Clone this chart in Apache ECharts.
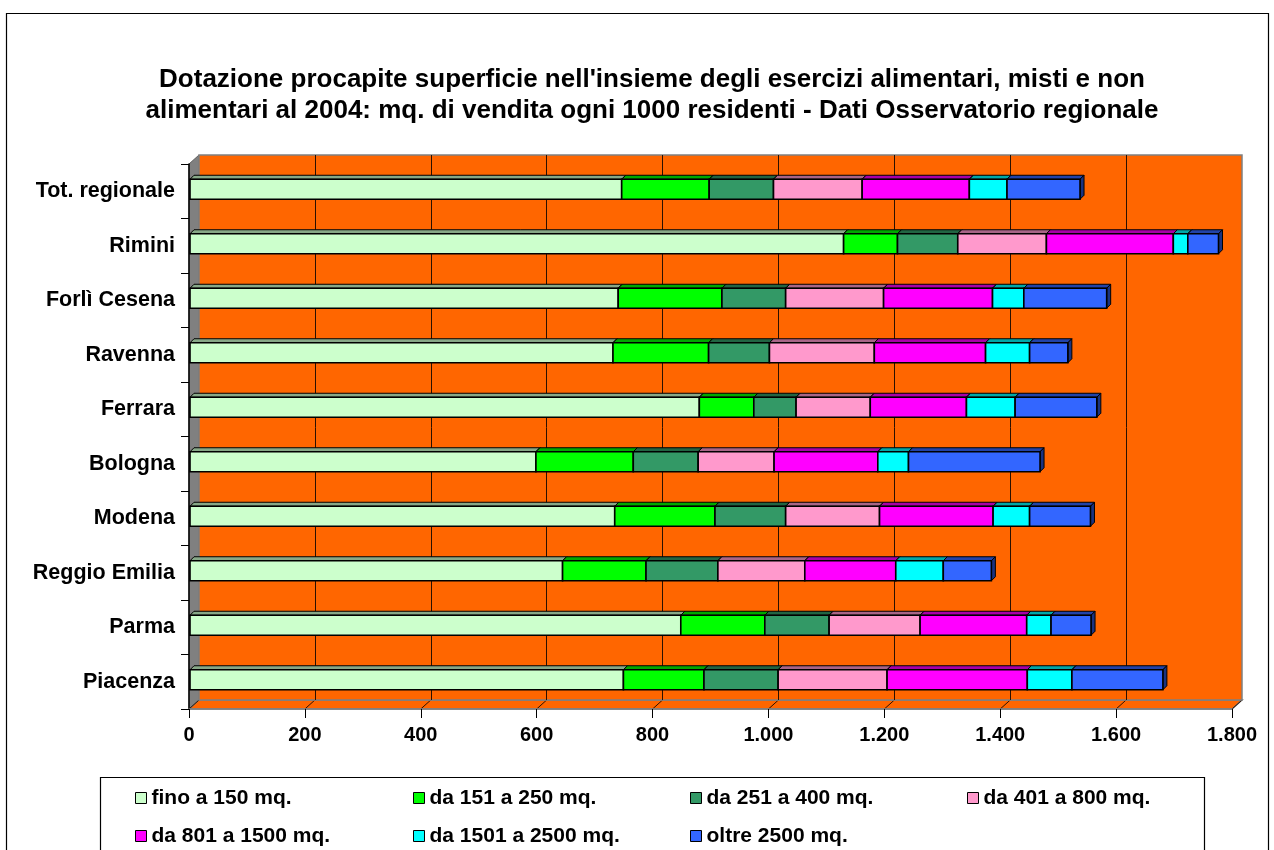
<!DOCTYPE html>
<html>
<head>
<meta charset="utf-8">
<script src="https://cdn.jsdelivr.net/npm/echarts@6/dist/echarts.min.js"></script>
<style>
  html, body { margin: 0; padding: 0; background: #fff; }
  #chart { width: 1274px; height: 850px; }
</style>
</head>
<body>
<div id="chart"></div>
<script>
// Regions, top to bottom
const categories = ['Tot. regionale', 'Rimini', 'Forlì Cesena', 'Ravenna', 'Ferrara',
  'Bologna', 'Modena', 'Reggio Emilia', 'Parma', 'Piacenza'];

// Sales area (sq m per 1000 residents) by shop size class, same order as categories
const fino150   = [745, 1128, 739, 730, 879, 597, 733, 643, 847, 748];
const da151     = [151,   93, 179, 165,  94, 168, 173, 144, 145, 139];
const da251     = [111,  104, 110, 105,  73, 112, 122, 124, 111, 128];
const da401     = [153,  153, 169, 181, 128, 131, 162, 150, 157, 188];
const da801     = [185,  219, 188, 192, 166, 179, 196, 157, 184, 242];
const da1501    = [ 65,   25,  54,  76,  84,  53,  63,  82,  42,  77];
const oltre2500 = [126,   53, 143,  66, 141, 227, 105,  83,  69, 157];

const seriesNames = ['fino a 150 mq.', 'da 151 a 250 mq.', 'da 251 a 400 mq.', 'da 401 a 800 mq.',
  'da 801 a 1500 mq.', 'da 1501 a 2500 mq.', 'oltre 2500 mq.'];
const seriesValues = [fino150, da151, da251, da401, da801, da1501, oltre2500];
const seriesColors = ['#CCFFCC', '#00FF00', '#339966', '#FF99CC', '#FF00FF', '#00FFFF', '#3366FF'];

// Value axis ticks
const axisMin = 0, axisMax = 1800, tickStep = 200;

const titleText = "Dotazione procapite superficie nell'insieme degli esercizi alimentari, misti e non\n" +
  "alimentari al 2004: mq. di vendita ogni 1000 residenti - Dati Osservatorio regionale";

const FONT = "'Liberation Sans', Arial, sans-serif";

// Pseudo-3D layout: front plane, back wall offset up-right, bars in between
const FRONT = { left: 189, top: 164, width: 1043, height: 545 };
const DX = 10, DY = 9;
const BACK = { left: FRONT.left + DX, top: FRONT.top - DY, width: FRONT.width, height: FRONT.height };
const BARS = { left: FRONT.left + 1, top: FRONT.top - 2, width: FRONT.width, height: FRONT.height };

const BAR_H = 20, BAR_D = 4;

function shade(hex, f) {
  const n = parseInt(hex.slice(1), 16);
  const r = Math.round(((n >> 16) & 255) * f);
  const g = Math.round(((n >> 8) & 255) * f);
  const b = Math.round((n & 255) * f);
  return 'rgb(' + r + ',' + g + ',' + b + ')';
}

function renderBar(params, api) {
  const ci = api.value(0);
  const p0 = api.coord([api.value(1), ci]);
  const p1 = api.coord([api.value(2), ci]);
  const x0 = p0[0], x1 = p1[0];
  const top = p0[1] - BAR_H / 2, bot = p0[1] + BAR_H / 2;
  const color = api.visual('color');
  return {
    type: 'group',
    children: [
      { type: 'polygon',
        shape: { points: [[x0, top], [x1, top], [x1 + BAR_D, top - BAR_D], [x0 + BAR_D, top - BAR_D]] },
        style: { fill: shade(color, 0.66), stroke: '#000', lineWidth: 1 } },
      { type: 'polygon',
        shape: { points: [[x1, top], [x1 + BAR_D, top - BAR_D], [x1 + BAR_D, bot - BAR_D], [x1, bot]] },
        style: { fill: shade(color, 0.5), stroke: '#000', lineWidth: 1 } },
      { type: 'rect',
        shape: { x: x0, y: top, width: x1 - x0, height: BAR_H },
        style: { fill: color, stroke: '#000', lineWidth: 1.6 } }
    ]
  };
}

const series = seriesNames.map(function (name, si) {
  return {
    type: 'custom',
    name: name,
    xAxisIndex: 2,
    yAxisIndex: 2,
    clip: false,
    itemStyle: { color: seriesColors[si] },
    encode: { x: [1, 2], y: 0 },
    renderItem: renderBar,
    data: categories.map(function (c, ci) {
      let start = 0;
      for (let k = 0; k < si; k++) start += seriesValues[k][ci];
      return [ci, start, start + seriesValues[si][ci]];
    })
  };
});

function itNumber(v) {
  return String(v).replace(/\B(?=(\d{3})+(?!\d))/g, '.');
}

const legendText = { fontSize: 21, fontWeight: 'bold', color: '#000', fontFamily: FONT, lineHeight: 21 };
function legendColumn(left, names) {
  return {
    left: left, top: 787.5, orient: 'vertical', itemGap: 17,
    icon: 'rect', itemWidth: 11, itemHeight: 11,
    itemStyle: { borderColor: '#000', borderWidth: 1 },
    textStyle: legendText, padding: 0,
    data: names
  };
}

const chart = echarts.init(document.getElementById('chart'), null, { renderer: 'canvas' });

chart.setOption({
  backgroundColor: '#fff',
  animation: false,
  textStyle: { fontFamily: FONT },
  title: {
    text: titleText,
    left: 652, top: 64, textAlign: 'center', padding: 0,
    textStyle: { fontSize: 26, fontWeight: 'bold', color: '#000', lineHeight: 31, fontFamily: FONT }
  },
  legend: [
    legendColumn(135, [seriesNames[0], seriesNames[4]]),
    legendColumn(413, [seriesNames[1], seriesNames[5]]),
    legendColumn(690, [seriesNames[2], seriesNames[6]]),
    legendColumn(967, [seriesNames[3]])
  ],
  grid: [
    Object.assign({ show: true, backgroundColor: '#FF6600', borderColor: '#808080', borderWidth: 1.5, containLabel: false }, BACK),
    Object.assign({ show: false, containLabel: false }, FRONT),
    Object.assign({ show: false, containLabel: false }, BARS)
  ],
  xAxis: [
    { gridIndex: 0, type: 'value', min: axisMin, max: axisMax, interval: tickStep,
      axisLine: { show: false }, axisTick: { show: false }, axisLabel: { show: false },
      splitLine: { show: true, showMinLine: false, showMaxLine: false, lineStyle: { color: '#2a1000', width: 1 } } },
    { gridIndex: 1, type: 'value', min: axisMin, max: axisMax, interval: tickStep,
      axisLine: { show: true, lineStyle: { color: '#808080', width: 1.5 } },
      axisTick: { show: true, length: 9, lineStyle: { color: '#000', width: 1 } },
      axisLabel: { margin: 16, fontSize: 20, fontWeight: 'bold', color: '#000', fontFamily: FONT, formatter: itNumber },
      splitLine: { show: false } },
    { gridIndex: 2, type: 'value', min: axisMin, max: axisMax, show: false, splitLine: { show: false } }
  ],
  yAxis: [
    { gridIndex: 0, type: 'category', data: categories, inverse: true, show: false },
    { gridIndex: 1, type: 'category', data: categories, inverse: true,
      axisLine: { show: true, lineStyle: { color: '#000', width: 1.5 } },
      axisTick: { show: true, length: 8, lineStyle: { color: '#000', width: 1 } },
      axisLabel: { margin: 14, fontSize: 21.5, fontWeight: 'bold', color: '#000', fontFamily: FONT },
      splitLine: { show: false } },
    { gridIndex: 2, type: 'category', data: categories, inverse: true, show: false }
  ],
  series: series
});

// Side wall, floor and frames, placed from the axes' own pixel mapping
const ticks = [];
for (let v = axisMin; v <= axisMax; v += tickStep) ticks.push(v);
const backBottom = BACK.top + BACK.height;
const frontBottom = FRONT.top + FRONT.height;
const floorLines = ticks.map(function (v) {
  const xb = chart.convertToPixel({ xAxisIndex: 0 }, v);
  const xf = chart.convertToPixel({ xAxisIndex: 1 }, v);
  return { type: 'line', z: -1, shape: { x1: xb, y1: backBottom, x2: xf, y2: frontBottom },
    style: { stroke: '#2a1000', lineWidth: 1 } };
});
const xb0 = chart.convertToPixel({ xAxisIndex: 0 }, axisMin);
const xbN = chart.convertToPixel({ xAxisIndex: 0 }, axisMax);
const xf0 = chart.convertToPixel({ xAxisIndex: 1 }, axisMin);
const xfN = chart.convertToPixel({ xAxisIndex: 1 }, axisMax);

chart.setOption({
  graphic: [
    { type: 'rect', z: -1, shape: { x: 6.5, y: 13.5, width: 1262, height: 900 },
      style: { fill: 'none', stroke: '#000', lineWidth: 1.2 } },
    { type: 'rect', z: -1, shape: { x: 100.5, y: 777.5, width: 1104, height: 120 },
      style: { fill: 'none', stroke: '#000', lineWidth: 1.2 } },
    { type: 'polygon', z: -1,
      shape: { points: [[xf0, FRONT.top], [xb0, BACK.top], [xb0, backBottom], [xf0, frontBottom]] },
      style: { fill: '#808080', stroke: '#606060', lineWidth: 1 } },
    { type: 'polygon', z: -1,
      shape: { points: [[xf0, frontBottom], [xb0, backBottom], [xbN, backBottom], [xfN, frontBottom]] },
      style: { fill: '#FF6600', stroke: '#808080', lineWidth: 1.5 } }
  ].concat(floorLines)
});
</script>
</body>
</html>
